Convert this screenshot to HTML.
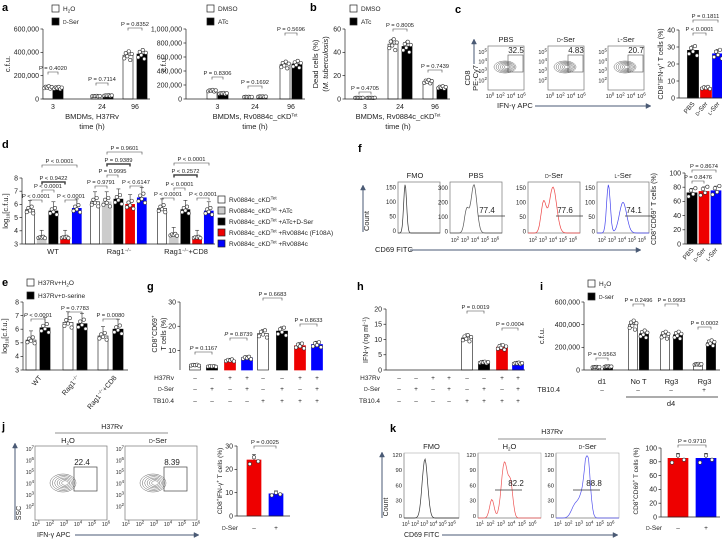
<!DOCTYPE html>
<html><head><meta charset="utf-8">
<style>
html,body{margin:0;padding:0;background:#fff;}
svg{display:block;font-family:"Liberation Sans",Arial,sans-serif;}
</style></head>
<body>
<svg id="fig" width="722" height="540" viewBox="0 0 722 540" xmlns="http://www.w3.org/2000/svg"></svg>
<script>
// ---------- DATA ----------
const aCats=['3','24','96'];
const aH2O=[100000,25000,375000];
const aDSer=[95000,30000,385000];
const a2DMSO=[120000,30000,490000];
const a2ATc=[80000,35000,500000];
const bDMSO=[1,47,15];
const bATc=[1,45,10];
const cCats=['PBS','D-Ser','L-Ser'];
const cVals=[28,6,26];
const dGroups=['WT','Rag1','Rag1+CD8'];
const dWT=[5.6,3.5,5.5,3.5,5.7];
const dRag=[6.2,6.2,6.4,6.0,6.5];
const dCD8=[5.7,3.7,5.6,3.5,5.5];
const eCats=['WT','Rag1','Rag1+CD8'];
const eH2O=[5.2,6.5,5.5];
const eSer=[6.1,6.4,6.0];
const fVals=[72,74,75];
const gVals=[4,3.5,6,7,17,18,12,12.5];
const hVals=[0,0,0,0,10.5,2.5,7.5,2.2];
const iCats=['d1','No T','Rg3','Rg3'];
const iH2O=[25000,400000,310000,50000];
const iDSer=[30000,320000,310000,240000];
const jVals=[24,9.5];
const kVals=[85,85];
const jit=[-0.12,0.08,-0.04,0.15,-0.18,0.05];

// ---------- helpers ----------
const NS='http://www.w3.org/2000/svg';
const svg=document.getElementById('fig');
const TXT='#222';
function line(x1,y1,x2,y2,st,sw,name){
  const el=document.createElementNS(NS,'line');
  el.setAttribute('x1',x1);el.setAttribute('y1',y1);el.setAttribute('x2',x2);el.setAttribute('y2',y2);
  el.setAttribute('stroke',st||'#222');el.setAttribute('stroke-width',sw||0.7);
  
  
  svg.appendChild(el);return el;
}
function rect(x,y,w,h,fill,st,name,sw){
  const el=document.createElementNS(NS,'rect');
  el.setAttribute('x',x);el.setAttribute('y',y);el.setAttribute('width',Math.max(0,w));el.setAttribute('height',Math.max(0,h));
  el.setAttribute('fill',fill||'none');el.setAttribute('stroke',st||'none');el.setAttribute('stroke-width',sw||0.7);
  
  
  svg.appendChild(el);return el;
}
function circ(x,y,r,fill,st,name){
  const el=document.createElementNS(NS,'circle');
  el.setAttribute('cx',x);el.setAttribute('cy',y);el.setAttribute('r',r);
  el.setAttribute('fill',fill);el.setAttribute('stroke',st);el.setAttribute('stroke-width',0.6);
  
  
  svg.appendChild(el);return el;
}
function path(d,st,sw,name,fill){
  const el=document.createElementNS(NS,'path');
  el.setAttribute('d',d);el.setAttribute('stroke',st);el.setAttribute('stroke-width',sw||0.7);el.setAttribute('fill',fill||'none');
  
  
  svg.appendChild(el);return el;
}
function text(x,y,s,size,anchor,name,rot,weight,fill){
  const el=document.createElementNS(NS,'text');
  el.setAttribute('x',x);el.setAttribute('y',y);
  el.setAttribute('font-size',size||7);el.setAttribute('text-anchor',anchor||'middle');
  el.setAttribute('fill',fill||TXT);
  if(weight)el.setAttribute('font-weight',weight);
  if(rot!==undefined&&rot!==null)el.setAttribute('transform','rotate('+rot+' '+x+' '+y+')');
  el.innerHTML=s;
  
  
  svg.appendChild(el);return el;
}
const sup=(b,e)=>b+'<tspan dy="-2.5" font-size="4.5">'+e+'</tspan><tspan dy="2.5"> </tspan>';
const dser='<tspan font-size="5">D</tspan>-Ser';
function yAxis(x,yTop,yBot,min,max,ticks,labels,name){
  line(x,yTop,x,yBot,'#222',0.7,name+'-line');
  const sc=v=>yBot-(v-min)/(max-min)*(yBot-yTop);
  ticks.forEach((t,i)=>{const y=sc(t);line(x-2.5,y,x,y,'#222',0.7,name+'-tick');
    if(labels[i]!=='')text(x-4,y+2.3,labels[i],7,'end',name+'-tick-label');});
  return sc;
}
function bar(cx,w,sc,min,v,fill,name,dots,err){
  const y0=sc(min),y1=sc(v);
  rect(cx-w/2,y1,w,y0-y1,fill,fill==='#fff'?'#333':fill,name,0.7);
  if(err!==false&&v>min){const e=(v-min)*0.08+0.5;const ye=sc(v)-e*(y0-y1)/(v-min||1);
    line(cx,y1,cx,ye,'#333',0.6,name+'-error');line(cx-2,ye,cx+2,ye,'#333',0.6,name+'-error-cap');}
  const n=dots||5;
  for(let i=0;i<n;i++){const j=jit[i%jit.length];const dv=v+(v-min)*j*0.6;
    const dx=(i-(n-1)/2)*(w/(n))*0.9;
    circ(cx+dx,sc(Math.max(min,dv)),1.7,'#fff','#333',name+'-point');}
}
function bracket(x1,x2,y,label,name,thick){
  path('M'+x1+' '+(y+2.5)+' L'+x1+' '+y+' L'+x2+' '+y+' L'+x2+' '+(y+2.5),'#444',thick?1.5:0.6,name+'-bracket');
  text((x1+x2)/2,y-2,label,5.8,'middle',name+'-pvalue');
}
function legend(x,y,fill,label,name){
  rect(x,y,7,7,fill,'#222',name+'-swatch',0.7);
  text(x+11,y+6,label,6.5,'start',name+'-text');
}
function table(rowsY,labels,xRight,centers,signs,name){
  rowsY.forEach((y,r)=>{text(xRight,y+2,labels[r],6.5,'end',name+'-row-label');
    centers.forEach((cx,i)=>text(cx,y+2,signs[r][i],6.5,'middle',name+'-sign'));});
}

// ---------- panel a ----------
text(2,11,'a',11,'start','panel-a-letter',null,'bold','#000');
legend(52,5,'#fff','H<tspan font-size="4.5" dy="1.5">2</tspan><tspan dy="-1.5">O</tspan>','a-legend-h2o');
legend(52,18,'#000',dser,'a-legend-dser');
let sc=yAxis(43,29,99,0,600000,[0,200000,400000,600000],['0','200,000','400,000','600,000'],'a1-y-axis');
[[48,58],[96,108],[128,142]].forEach((p,i)=>{
  bar(p[0],10,sc,0,aH2O[i],'#fff','a1-bar-h2o-'+aCats[i],6);
  bar(p[1],10,sc,0,aDSer[i],'#000','a1-bar-dser-'+aCats[i],6);
  text((p[0]+p[1])/2,109,aCats[i],7,'middle','a1-x-tick-label');
});
line(43,99,150,99,'#222',0.7,'a1-x-axis');
bracket(48,58,72,'P = 0.4020','a1-3h');bracket(96,108,83,'P = 0.7114','a1-24h');bracket(128,142,28,'P = 0.8352','a1-96h');
text(92,119,'BMDMs, H37Rv',7.5,'middle','a1-x-title');text(92,129,'time (h)',7.5,'middle','a1-x-title-2');
text(10,64,'c.f.u.',7.5,'middle','a1-y-title',-90);

legend(207,5,'#fff','DMSO','a2-legend-dmso');legend(207,18,'#000','ATc','a2-legend-atc');
sc=yAxis(186,29,99,0,1000000,[0,200000,400000,600000,800000,1000000],['0','200,000','400,000','600,000','800,000','1,000,000'],'a2-y-axis');
[[212,223],[248,262],[285,297]].forEach((p,i)=>{
  bar(p[0],10,sc,0,a2DMSO[i],'#fff','a2-bar-dmso-'+aCats[i],6);
  bar(p[1],10,sc,0,a2ATc[i],'#000','a2-bar-atc-'+aCats[i],6);
  text((p[0]+p[1])/2,109,aCats[i],7,'middle','a2-x-tick-label');
});
line(186,99,305,99,'#222',0.7,'a2-x-axis');
bracket(212,223,77,'P = 0.8306','a2-3h');bracket(248,262,86,'P = 0.1692','a2-24h');bracket(285,297,33,'P = 0.5696','a2-96h');
text(255,119,'BMDMs, Rv0884c_cKD<tspan dy="-2.5" font-size="4.5">Tet</tspan>',7.5,'middle','a2-x-title');
text(255,129,'time (h)',7.5,'middle','a2-x-title-2');
text(166,64,'c.f.u.',7.5,'middle','a2-y-title',-90);

// ---------- panel b ----------
text(310,11,'b',11,'start','panel-b-letter',null,'bold','#000');
legend(350,5,'#fff','DMSO','b-legend-dmso');legend(350,18,'#000','ATc','b-legend-atc');
sc=yAxis(345,29,99,0,60,[0,20,40,60],['0','20','40','60'],'b-y-axis');
[[359,371],[393,407],[428,442]].forEach((p,i)=>{
  bar(p[0],10,sc,0,bDMSO[i],'#fff','b-bar-dmso-'+aCats[i],6);
  bar(p[1],10,sc,0,bATc[i],'#000','b-bar-atc-'+aCats[i],6);
  text((p[0]+p[1])/2,109,aCats[i],7,'middle','b-x-tick-label');
});
line(345,99,450,99,'#222',0.7,'b-x-axis');
bracket(359,371,92,'P = 0.4705','b-3h');bracket(393,407,29,'P = 0.8005','b-24h');bracket(428,442,70,'P = 0.7439','b-96h');
text(398,119,'BMDMs, Rv0884c_cKD<tspan dy="-2.5" font-size="4.5">Tet</tspan>',7.5,'middle','b-x-title');
text(398,129,'time (h)',7.5,'middle','b-x-title-2');
text(318,64,'Dead cells (%)',7.5,'middle','b-y-title',-90);
text(328,64,'(<tspan font-style="italic">M. tuberculosis</tspan>)',7.5,'middle','b-y-title-2',-90);

// ---------- panel c flow ----------
text(455,13,'c',11,'start','panel-c-letter',null,'bold','#000');
function contour(cx,cy,rx,ry,name){for(let k=0;k<6;k++){const el=document.createElementNS(NS,'ellipse');
  el.setAttribute('cx',cx+k*0.4);el.setAttribute('cy',cy);el.setAttribute('rx',rx*(1-k*0.15));el.setAttribute('ry',ry*(1-k*0.15));
  el.setAttribute('fill','none');el.setAttribute('stroke','#555');el.setAttribute('stroke-width',0.45);
  
  
  svg.appendChild(el);}}
[[488,'PBS','32.5'],[548,dser,'4.83'],[608,'<tspan font-size="5">L</tspan>-Ser','20.7']].forEach((f,i)=>{
  const x=f[0];rect(x,46,36,44,'none','#777','c-flow-box-'+i,0.7);
  text(x+18,42,f[1],7.5,'middle','c-flow-title');
  ['5','4','3','2'].forEach((e,k)=>text(x-1,54+k*9.5,sup('10',e),5.5,'end','c-flow-y-tick'));
  ['0','2','4','6'].forEach((e,k)=>text(x+2+k*10.5,98,sup('10',e),5.5,'middle','c-flow-x-tick'));
  contour(x+17,67,11,6,'c-flow-contour');
  rect(x+20,55,15,17,'none','#555','c-flow-gate',0.6);
  text(x+28,53,f[2],8,'middle','c-flow-gate-value');
});
text(470,78,'CD8',7.5,'middle','c-flow-y-title',-90);text(478,78,'PE-Cy7',7.5,'middle','c-flow-y-title-2',-90);
line(474,64,474,42,'#4a5a75',1,'c-y-arrow');path('M471.5 44 L474 39 L476.5 44 Z','#4a5a75',0.5,'c-y-arrowhead','#4a5a75');
text(497,108,'IFN-γ APC',7.5,'start','c-flow-x-title');
line(535,106,648,106,'#4a5a75',1,'c-x-arrow');path('M646 103.5 L651 106 L646 108.5 Z','#4a5a75',0.5,'c-x-arrowhead','#4a5a75');
sc=yAxis(679,30,98,0,40,[0,10,20,30,40],['0','10','20','30','40'],'c-y-axis');
const cCols=['#000','#e00','#00f'];
[693,706,718].forEach((cx,i)=>{bar(cx,11,sc,0,cVals[i],cCols[i],'c-bar-'+cCats[i],5);});
line(679,98,722,98,'#222',0.7,'c-x-axis');
bracket(693,718,20,'P = 0.1811','c-pbs-lser');bracket(693,706,33,'P &lt; 0.0001','c-pbs-dser');
text(663,64,'CD8<tspan dy="-2.5" font-size="4.5">+</tspan><tspan dy="2.5">IFN-γ</tspan><tspan dy="-2.5" font-size="4.5">+</tspan><tspan dy="2.5"> T cells (%)</tspan>',7,'middle','c-y-title',-90);
['PBS',dser,'<tspan font-size="5">L</tspan>-Ser'].forEach((s,i)=>text([693,706,718][i]+2,104,s,6.5,'end','c-x-tick-label',-50));

// ---------- panel d ----------
text(2,148,'d',11,'start','panel-d-letter',null,'bold','#000');
sc=yAxis(22,178,244,3,8,[3,4,5,6,7,8],['3','4','5','6','7','8'],'d-y-axis');
const dCols=['#fff','#ccc','#000','#e00','#00f'];
[[dWT,30],[dRag,95],[dCD8,162]].forEach((g,gi)=>{
  g[0].forEach((v,i)=>bar(g[1]+i*11.7,9,sc,3,v,dCols[i],'d-bar-'+dGroups[gi]+'-'+i,5));
});
line(22,244,215,244,'#222',0.7,'d-x-axis');
text(53,254,'WT',7.5,'middle','d-x-label');
text(119,254,'Rag1<tspan dy="-2.5" font-size="4.5">−/−</tspan>',7.5,'middle','d-x-label');
text(186,254,'Rag1<tspan dy="-2.5" font-size="4.5">−/−</tspan><tspan dy="2.5">+CD8</tspan>',7.5,'middle','d-x-label');
text(8,211,'log<tspan dy="1.5" font-size="4.5">10</tspan><tspan dy="-1.5">[c.f.u.]</tspan>',7.5,'middle','d-y-title',-90);
[[30,42,200,'P &lt; 0.0001'],[42,54,190,'P &lt; 0.0001'],[42,65,182,'P &lt; 0.9422',1],[42,77,165,'P &lt; 0.0001'],[65,77,200,'P &lt; 0.0001'],
 [95,107,186,'P = 0.9791'],[107,118,175,'P = 0.9995'],[107,130,164,'P = 0.9389',1],[107,142,152,'P = 0.9601'],[130,142,186,'P &lt; 0.6147'],
 [162,174,198,'P &lt; 0.0001'],[174,185,188,'P &lt; 0.0001'],[174,197,175,'P &lt; 0.2572',1],[174,209,163,'P &lt; 0.0001'],[197,209,198,'P &lt; 0.0001']
].forEach((b,i)=>bracket(b[0],b[1],b[2],b[3],'d-comparison-'+i,b[4]));
const dLeg=['Rv0884c_cKD<tspan dy="-2.5" font-size="4.5">Tet</tspan>','Rv0884c_cKD<tspan dy="-2.5" font-size="4.5">Tet</tspan><tspan dy="2.5"> +ATc</tspan>',
 'Rv0884c_cKD<tspan dy="-2.5" font-size="4.5">Tet</tspan><tspan dy="2.5"> +ATc+D-Ser</tspan>','Rv0884c_cKD<tspan dy="-2.5" font-size="4.5">Tet</tspan><tspan dy="2.5"> +Rv0884c (F108A)</tspan>','Rv0884c_cKD<tspan dy="-2.5" font-size="4.5">Tet</tspan><tspan dy="2.5"> +Rv0884c</tspan>'];
dLeg.forEach((s,i)=>legend(218,196+i*11,dCols[i],s,'d-legend-'+i));

// ---------- panel f ----------
text(358,152,'f',11,'start','panel-f-letter',null,'bold','#000');
line(363,232,363,188,'#4a5a75',1,'f-y-arrow');path('M360.5 190 L363 185 L365.5 190 Z','#4a5a75',0.5,'f-y-arrowhead','#4a5a75');
text(369,221,'Count',7.5,'middle','f-y-title',-90);
function hist(x,y,w,h,peaks,col,name){let d='';for(let k=0;k<=60;k++){const t=k/60;let v=0;peaks.forEach(p=>{v+=p[2]*Math.exp(-Math.pow((t-p[0])/p[1],2));});
  d+=(k?'L':'M')+(x+t*w).toFixed(1)+' '+(y+h-Math.min(1,v)*h).toFixed(1)+' ';}path(d,col,0.7,name);}
rect(398,182,42,51,'none','#777','f-fmo-box');text(415,178,'FMO',7.5,'middle','f-fmo-title');
hist(398,182,42,51,[[0.17,0.05,0.95]],'#333','f-fmo-histogram');
const fBoxes=[[450,'PBS','77.4','#555',[[0.32,0.06,0.45],[0.46,0.08,0.95]],['300','200','100','0']],[528,dser,'77.6','#e44',[[0.3,0.07,0.6],[0.48,0.1,0.9]],['150','100','50','0']],[597,'<tspan font-size="5">L</tspan>-Ser','74.1','#44e',[[0.22,0.05,0.95],[0.5,0.1,0.6]],['150','100','50','0']]];
fBoxes.forEach((f,i)=>{const x=f[0];rect(x,182,52,51,'none','#777','f-box-'+i);
  text(x+26,178,f[1],7.5,'middle','f-title');
  hist(x,182,52,51,f[4],f[3],'f-histogram-'+i);
  f[5].forEach((t,k)=>text(x-2,190+k*14.5,t,6,'end','f-y-tick'));
  line(x+28,216,x+55,216,'#333',0.7,'f-gate');text(x+37,213,f[2],8,'middle','f-gate-value');
  ['2','3','4','5','6'].forEach((e,k)=>text(x+5+k*10,242,sup('10',e),5.2,'middle','f-x-tick'));});
['0','50','100','150'].forEach((t,k)=>text(396,233-k*14.5,t,6,'end','f-fmo-y-tick'));
text(375,252,'CD69 FITC',7.5,'start','f-x-title');
line(410,250,638,250,'#4a5a75',1,'f-x-arrow');path('M636 247.5 L641 250 L636 252.5 Z','#4a5a75',0.5,'f-x-arrowhead','#4a5a75');
sc=yAxis(685,173,244,0,100,[0,20,40,60,80,100],['0','20','40','60','80','100'],'f-y-axis');
[692,704,716].forEach((cx,i)=>bar(cx,10,sc,0,fVals[i],cCols[i],'f-bar-'+cCats[i],4));
line(685,244,722,244,'#222',0.7,'f-x-axis');
bracket(692,716,170,'P = 0.8674','f-pbs-lser');bracket(692,704,181,'P = 0.8476','f-pbs-dser');
text(656,209,'CD8<tspan dy="-2.5" font-size="4.5">+</tspan><tspan dy="2.5">CD69</tspan><tspan dy="-2.5" font-size="4.5">+</tspan><tspan dy="2.5"> T cells (%)</tspan>',7,'middle','f-y-title',-90);
['PBS',dser,'<tspan font-size="5">L</tspan>-Ser'].forEach((s,i)=>text([692,704,716][i]+2,250,s,6.5,'end','f-x-tick-label',-50));

// ---------- panel e ----------
text(2,286,'e',11,'start','panel-e-letter',null,'bold','#000');
legend(27,279,'#fff','H37Rv+H<tspan font-size="4.5" dy="1.5">2</tspan><tspan dy="-1.5">O</tspan>','e-legend-h2o');
legend(27,292,'#000','H37Rv+<tspan font-size="5">D</tspan>-serine','e-legend-dserine');
sc=yAxis(23,302,370,3,8,[3,4,5,6,7,8],['3','4','5','6','7','8'],'e-y-axis');
[[31,45],[68,82],[103,118]].forEach((p,i)=>{bar(p[0],10,sc,3,eH2O[i],'#fff','e-bar-h2o-'+eCats[i],5);bar(p[1],10,sc,3,eSer[i],'#000','e-bar-dserine-'+eCats[i],5);});
line(23,370,128,370,'#222',0.7,'e-x-axis');
bracket(31,45,319,'<tspan font-style="italic">P</tspan> &lt; 0.0001','e-wt');bracket(68,82,312,'P = 0.7783','e-rag');bracket(103,118,319,'P = 0.0080','e-cd8');
text(7,336,'log<tspan dy="1.5" font-size="4.5">10</tspan><tspan dy="-1.5">[c.f.u.]</tspan>',7.5,'middle','e-y-title',-90);
text(42,378,'WT',7,'end','e-x-label',-50);
text(80,378,'Rag1<tspan dy="-2.5" font-size="4.5">−/−</tspan>',7,'end','e-x-label',-50);
text(117,378,'Rag1<tspan dy="-2.5" font-size="4.5">−/−</tspan><tspan dy="2.5">+CD8</tspan>',7,'end','e-x-label',-50);

// ---------- panel g ----------
text(147,290,'g',11,'start','panel-g-letter',null,'bold','#000');
sc=yAxis(180,302,370,2,30,[10,20,30],['10','20','30'],'g-y-axis');
const gCols=['#fff','#000','#e00','#00f','#fff','#000','#e00','#00f'];
const gX=[195,212,230,247,263,282,300,317];
gX.forEach((cx,i)=>bar(cx,11,sc,2,gVals[i],gCols[i],'g-bar-'+i,5));
bracket(195,212,352,'<tspan font-style="italic">P</tspan> = 0.1167','g-cmp-1');bracket(230,247,338,'<tspan font-style="italic">P</tspan> = 0.8739','g-cmp-2');
bracket(263,282,298,'P = 0.6683','g-cmp-3');bracket(300,317,324,'P = 0.8633','g-cmp-4');
text(157,334,'CD8<tspan dy="-2.5" font-size="4.5">+</tspan><tspan dy="2.5">CD69</tspan><tspan dy="-2.5" font-size="4.5">+</tspan>',7,'middle','g-y-title',-90);
text(166,334,'T cells (%)',7,'middle','g-y-title-2',-90);
const sg=[['–','–','+','+','–','–','+','+'],['–','+','–','+','–','+','–','+'],['–','–','–','–','+','+','+','+']];
table([378,389,401],['H37Rv',dser,'TB10.4'],174,gX,sg,'g-table');

// ---------- panel h ----------
text(357,290,'h',11,'start','panel-h-letter',null,'bold','#000');
sc=yAxis(386,309,370,0,20,[0,5,10,15,20],['0','5','10','15','20'],'h-y-axis');
const hX=[399,416,433,449,467,484,502,518];
hVals.forEach((v,i)=>{if(v>0)bar(hX[i],11,sc,0,v,gCols[i],'h-bar-'+i,6);});
line(386,370,525,370,'#222',0.7,'h-x-axis');
bracket(467,484,311,'P = 0.0019','h-cmp-1');bracket(502,518,328,'P = 0.0004','h-cmp-2');
text(368,340,'IFN-γ (ng ml<tspan dy="-2.5" font-size="4.5">−1</tspan><tspan dy="2.5">)</tspan>',7,'middle','h-y-title',-90);
table([378,389,401],['H37Rv',dser,'TB10.4'],380,hX,sg,'h-table');

// ---------- panel i ----------
text(540,290,'i',11,'start','panel-i-letter',null,'bold','#000');
legend(588,280,'#fff','H<tspan font-size="4.5" dy="1.5">2</tspan><tspan dy="-1.5">O</tspan>','i-legend-h2o');
legend(588,293,'#000','<tspan font-size="5">D</tspan>-ser','i-legend-dser');
sc=yAxis(584,302,370,0,600000,[0,200000,400000,600000],['0','200,000','400,000','600,000'],'i-y-axis');
[[596,608],[633,644],[665,678],[698,711]].forEach((p,i)=>{bar(p[0],9,sc,0,iH2O[i],'#fff','i-bar-h2o-'+i,6);bar(p[1],9,sc,0,iDSer[i],'#000','i-bar-dser-'+i,6);
  text((p[0]+p[1])/2,384,iCats[i],7.5,'middle','i-x-label');});
line(584,370,720,370,'#222',0.7,'i-x-axis');
bracket(596,608,358,'P = 0.5563','i-d1');bracket(633,644,304,'P = 0.2496','i-not');bracket(665,678,304,'P = 0.9993','i-rg3');bracket(698,711,327,'P = 0.0002','i-rg3-tb');
text(544,336,'c.f.u.',7.5,'middle','i-y-title',-90);
text(560,392,'TB10.4',7,'end','i-tb-label');
['–','–','–','+'].forEach((s,i)=>text([602,638,671,704][i],392,s,6.5,'middle','i-tb-sign'));
line(626,397,718,397,'#222',0.7,'i-d4-line');text(671,406,'d4',7.5,'middle','i-d4-label');

// ---------- panel j ----------
text(2,430,'j',11,'start','panel-j-letter',null,'bold','#000');
text(112,429,'H37Rv',7,'middle','j-group-title');line(55,433,168,433,'#222',0.6,'j-group-line');
[[35,'H<tspan font-size="4.5" dy="1.5">2</tspan><tspan dy="-1.5">O</tspan>','22.4'],[125,dser,'8.39']].forEach((f,i)=>{const x=f[0];
  rect(x,446,72,74,'none','#777','j-flow-box-'+i);text(x+33,443,f[1],7.5,'middle','j-flow-title');
  ['7','6','5','4','3','2'].forEach((e,k)=>text(x-1,451+k*11.5,sup('10',e),5.2,'end','j-flow-y-tick'));
  ['1','2','3','4','5','6'].forEach((e,k)=>text(x+1+k*14,526,sup('10',e),5.2,'middle','j-flow-x-tick'));
  contour(x+28,483,13,9,'j-flow-contour');
  rect(x+39,467,23,24,'none','#444','j-flow-gate',0.7);text(x+47,465,f[2],8,'middle','j-gate-value');});
line(15,520,15,446,'#4a5a75',1,'j-y-arrow');path('M12.5 448 L15 443 L17.5 448 Z','#4a5a75',0.5,'j-y-arrowhead','#4a5a75');
text(21,513,'SSC',7,'middle','j-y-title',-90);
text(37,537,'IFN-γ APC',7,'start','j-x-title');line(75,535,196,535,'#4a5a75',1,'j-x-arrow');path('M194 532.5 L199 535 L194 537.5 Z','#4a5a75',0.5,'j-x-arrowhead','#4a5a75');
sc=yAxis(237,446,516,0,30,[0,10,20,30],['0','10','20','30'],'j-y-axis');
bar(254,14,sc,0,jVals[0],'#e00','j-bar-h2o',3);bar(276,14,sc,0,jVals[1],'#00f','j-bar-dser',3);
line(237,516,290,516,'#222',0.7,'j-x-axis');
bracket(254,276,446,'P = 0.0025','j-cmp');
text(222,481,'CD8<tspan dy="-2.5" font-size="4.5">+</tspan><tspan dy="2.5">IFN-γ</tspan><tspan dy="-2.5" font-size="4.5">+</tspan><tspan dy="2.5"> T cells (%)</tspan>',6.5,'middle','j-y-title',-90);
text(238,530,dser,6.5,'end','j-xrow-label');text(254,530,'–',6.5,'middle','j-sign');text(276,530,'+',6.5,'middle','j-sign');

// ---------- panel k ----------
text(390,432,'k',11,'start','panel-k-letter',null,'bold','#000');
text(552,434,'H37Rv',7,'middle','k-group-title');line(498,439,606,439,'#222',0.6,'k-group-line');
line(382,518,382,455,'#4a5a75',1,'k-y-arrow');path('M379.5 457 L382 452 L384.5 457 Z','#4a5a75',0.5,'k-y-arrowhead','#4a5a75');
text(388,507,'Count',7,'middle','k-y-title',-90);
const kBoxes=[[404,'FMO',null,'#333',[[0.38,0.07,0.95]]],[478,'H<tspan font-size="4.5" dy="1.5">2</tspan><tspan dy="-1.5">O</tspan>','82.2','#e55',[[0.22,0.05,0.3],[0.42,0.07,0.9],[0.52,0.05,0.5]]],[556,dser,'88.8','#55e',[[0.3,0.08,0.2],[0.5,0.06,0.95],[0.42,0.08,0.35]]]];
kBoxes.forEach((f,i)=>{const x=f[0],w=f[0]===404?55:63;
  line(x,453,x,518,'#777',0.7,'k-box-left');line(x,518,x+w,518,'#777',0.7,'k-box-bottom');
  rect(x,453,w,65,'none','#999','k-box-'+i,0.5);
  text(x+w/2,449,f[1],7.5,'middle','k-title');
  hist(x,456,w,62,f[4],f[3],'k-histogram-'+i);
  ['120','90','60','30','0'].forEach((t,k)=>text(x-2,457+k*15.2,t,5.8,'end','k-y-tick'));
  ['1','2','3','4','5','6'].forEach((e,k)=>text(x+2+k*(w/6),526,sup('10',e),5,'middle','k-x-tick'));
  if(f[2]){line(x+17,490,x+44,490,'#333',0.7,'k-gate');text(x+38,486,f[2],8,'middle','k-gate-value');}});
text(404,537,'CD69 FITC',7,'start','k-x-title');line(442,535,615,535,'#4a5a75',1,'k-x-arrow');path('M613 532.5 L618 535 L613 537.5 Z','#4a5a75',0.5,'k-x-arrowhead','#4a5a75');
sc=yAxis(661,448,517,0,100,[0,20,40,60,80,100],['0','20','40','60','80','100'],'k-y-axis');
bar(678,20,sc,0,kVals[0],'#e00','k-bar-h2o',3);bar(706,20,sc,0,kVals[1],'#00f','k-bar-dser',3);
line(661,517,720,517,'#222',0.7,'k-x-axis');
bracket(678,706,445,'P = 0.9710','k-cmp');
text(638,481,'CD8<tspan dy="-2.5" font-size="4.5">+</tspan><tspan dy="2.5">CD69</tspan><tspan dy="-2.5" font-size="4.5">+</tspan><tspan dy="2.5"> T cells (%)</tspan>',6.5,'middle','k-y-title',-90);
text(662,530,dser,6.5,'end','k-xrow-label');text(678,530,'–',6.5,'middle','k-sign');text(706,530,'+',6.5,'middle','k-sign');
</script>
</body></html>
